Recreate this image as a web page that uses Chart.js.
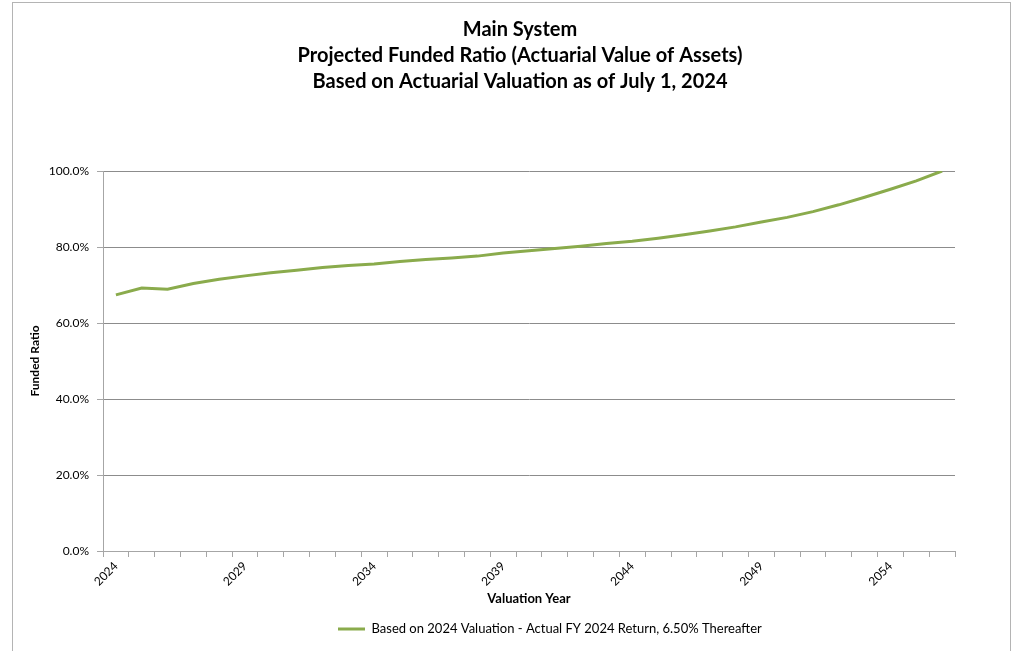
<!DOCTYPE html>
<html>
<head>
<meta charset="utf-8">
<title>Main System - Projected Funded Ratio</title>
<script src="https://cdn.jsdelivr.net/npm/chart.js@4.4.1/dist/chart.umd.min.js"></script>
<style>
  html, body { margin: 0; padding: 0; background: #ffffff; overflow: hidden; }
  #frame {
    position: absolute; left: 12px; top: 2px; width: 999px; height: 700px;
    border: 1px solid #b4b4b4; box-sizing: border-box;
  }
  #wrap { position: absolute; left: 0; top: 0; width: 1014px; height: 651px; }
</style>
</head>
<body>
<div id="frame"></div>
<div id="wrap"><canvas id="chart" width="1014" height="651"></canvas></div>
<script>
// Valuation years on the horizontal axis
const years = [
  '2024','2025','2026','2027','2028','2029','2030','2031','2032','2033','2034',
  '2035','2036','2037','2038','2039','2040','2041','2042','2043','2044','2045',
  '2046','2047','2048','2049','2050','2051','2052','2053','2054','2055','2056'
];

// Projected funded ratio (actuarial value of assets), percent
const fundedRatio = [
  67.4, 69.2, 68.9, 70.4, 71.5, 72.4, 73.2, 73.9, 74.6, 75.1, 75.5,
  76.2, 76.7, 77.1, 77.6, 78.4, 79.0, 79.6, 80.2, 80.9, 81.5, 82.3,
  83.2, 84.2, 85.3, 86.6, 87.8, 89.3, 91.1, 93.1, 95.2, 97.4, 100.0
];

const seriesName = 'Based on 2024 Valuation - Actual FY 2024 Return, 6.50% Thereafter';
const titleLines = [
  'Main System',
  'Projected Funded Ratio (Actuarial Value of Assets)',
  'Based on Actuarial Valuation as of July 1, 2024'
];

const FONT = 'Lato, "Open Sans", sans-serif';
const LINE_GREEN = '#8aab4c';
const GRID_GREY = '#8c8c8c';
const AXIS_GREY = '#a6a6a6';

// Title is centred on the page, legend entry starts near the left third
const TITLE_CENTER_X = 520;
const LEGEND_START_X = 338;

const placeBlocks = {
  id: 'placeBlocks',
  afterLayout(chart) {
    const t = chart.titleBlock;
    if (t) {
      const dx = TITLE_CENTER_X - (t.left + t.right) / 2;
      t.left += dx; t.right += dx;
    }
    const lg = chart.legend;
    if (lg && lg.lineWidths && lg.lineWidths.length) {
      const pad = lg.options.labels.padding;
      const rowStart = (lg.left + pad + lg.right - lg.lineWidths[0]) / 2;
      const dx = LEGEND_START_X - rowStart;
      lg.left += dx; lg.right += dx;
    }
  }
};

new Chart(document.getElementById('chart'), {
  type: 'line',
  data: {
    labels: years,
    datasets: [{
      label: seriesName,
      data: fundedRatio,
      borderColor: LINE_GREEN,
      backgroundColor: LINE_GREEN,
      borderWidth: 3,
      pointRadius: 0,
      tension: 0,
      fill: false
    }]
  },
  plugins: [placeBlocks],
  options: {
    responsive: false,
    animation: false,
    devicePixelRatio: 1,
    layout: { padding: { left: 28, right: 59, top: 0, bottom: 5.5 } },
    plugins: {
      tooltip: { enabled: false },
      title: {
        display: true,
        text: titleLines,
        color: '#000000',
        font: { family: FONT, size: 20, weight: 'bold', lineHeight: 1.3 },
        padding: { top: 17, bottom: 76 }
      },
      legend: {
        display: true,
        position: 'bottom',
        labels: {
          color: '#000000',
          font: { family: FONT, size: 13 },
          boxWidth: 27,
          boxHeight: 3,
          padding: 10,
          generateLabels(chart) {
            const items = Chart.defaults.plugins.legend.labels.generateLabels(chart);
            items.forEach(it => { it.lineWidth = 0; it.fillStyle = LINE_GREEN; });
            return items;
          }
        }
      }
    },
    scales: {
      x: {
        offset: true,
        grid: {
          offset: true,
          drawOnChartArea: false,
          drawTicks: true,
          tickLength: 6,
          color: AXIS_GREY
        },
        border: { color: AXIS_GREY, width: 1 },
        ticks: {
          autoSkip: false,
          maxRotation: 45,
          minRotation: 45,
          padding: 2,
          color: '#000000',
          font: { family: FONT, size: 12 },
          callback: function (value, index) {
            return index % 5 === 0 ? years[index] : '';
          }
        },
        title: {
          display: true,
          text: 'Valuation Year',
          color: '#000000',
          font: { family: FONT, size: 13, weight: 'bold' },
          padding: { top: 0, bottom: 6 }
        },
        afterFit: function (scale) { scale.height = 61.5; }
      },
      y: {
        min: 0,
        max: 100,
        grid: {
          color: GRID_GREY,
          drawTicks: true,
          tickLength: 6,
          tickColor: AXIS_GREY
        },
        border: { color: AXIS_GREY, width: 1 },
        ticks: {
          stepSize: 20,
          padding: 8,
          color: '#000000',
          font: { family: FONT, size: 12 },
          callback: function (value) { return value.toFixed(1) + '%'; }
        },
        title: {
          display: true,
          text: 'Funded Ratio',
          color: '#000000',
          font: { family: FONT, size: 12, weight: 'bold' },
          padding: { top: 0, bottom: 0 }
        },
        afterFit: function (scale) { scale.width = 103 - 28; }
      }
    }
  }
});
</script>
</body>
</html>
